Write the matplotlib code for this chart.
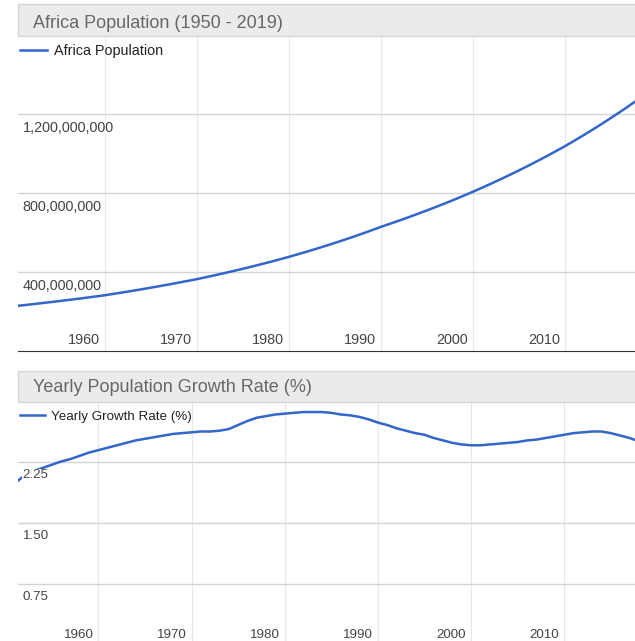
import matplotlib
matplotlib.use("Agg")
import matplotlib.pyplot as plt
from matplotlib.patches import Rectangle

plt.rcParams['font.family'] = ['Liberation Sans', 'DejaVu Sans']

# population, millions, 1950-2019
years = list(range(1950, 2020))
population = [
    226.0, 231.0, 236.3, 241.6, 247.0, 252.6, 258.3, 264.1, 270.0, 276.2,
    282.5, 289.8, 297.2, 304.9, 312.7, 320.8, 329.0, 337.5, 346.2, 355.0,
    364.0, 374.0, 384.2, 394.7, 405.5, 416.6, 428.0, 439.8, 451.8, 464.2,
    477.0, 490.4, 504.1, 518.3, 532.8, 547.7, 563.1, 578.8, 595.1, 611.7,
    629.0, 644.9, 661.1, 677.8, 694.9, 712.4, 730.3, 748.7, 767.6, 787.0,
    807.0, 827.6, 848.7, 870.3, 892.5, 915.3, 938.6, 962.6, 987.1, 1012.3,
    1038.0, 1065.2, 1093.1, 1121.7, 1151.1, 1181.3, 1212.2, 1244.0, 1276.6, 1310.0,
]

# yearly growth rate (%), 1951-2019
growth_years = list(range(1951, 2020))
growth = [
    1.99, 2.08, 2.14, 2.18, 2.22, 2.26, 2.29, 2.33, 2.37,
    2.40, 2.43, 2.46, 2.49, 2.52, 2.54, 2.56, 2.58, 2.60, 2.61,
    2.62, 2.63, 2.63, 2.64, 2.66, 2.71, 2.76, 2.80, 2.82, 2.84,
    2.85, 2.86, 2.87, 2.87, 2.87, 2.86, 2.84, 2.83, 2.81, 2.78,
    2.74, 2.71, 2.67, 2.64, 2.61, 2.59, 2.55, 2.52, 2.49, 2.47,
    2.46, 2.46, 2.47, 2.48, 2.49, 2.50, 2.52, 2.53, 2.55, 2.57,
    2.59, 2.61, 2.62, 2.63, 2.63, 2.61, 2.58, 2.55, 2.51, 2.48,
]

x_ticks = [1960, 1970, 1980, 1990, 2000, 2010]
pop_ticks = [400e6, 800e6, 1200e6]
pop_labels = ['400,000,000', '800,000,000', '1,200,000,000']
growth_ticks = [0.75, 1.5, 2.25]
growth_labels = ['0.75', '1.50', '2.25']

titles = ['Africa Population (1950 - 2019)', 'Yearly Population Growth Rate (%)']
legend_names = ['Africa Population', 'Yearly Growth Rate (%)']

W, H = 635, 641
LINE = '#3366cc'


def fx(px):
    return px / W


def fy(py):
    return 1 - py / H


fig = plt.figure(figsize=(W / 100, H / 100), dpi=100)

ax1 = fig.add_axes([fx(18), fy(351), fx(635) - fx(18), fy(35) - fy(351)])
ax2 = fig.add_axes([fx(18), fy(644.8), fx(635) - fx(18), fy(401.5) - fy(644.8)])


def title_box(top, bottom, text, baseline):
    rect = Rectangle((fx(18), fy(bottom)), fx(640) - fx(18), fy(top) - fy(bottom),
                     transform=fig.transFigure, facecolor='#ebebeb',
                     edgecolor='#d2d2d2', linewidth=0.9)
    fig.add_artist(rect)
    fig.text(fx(33), fy(baseline), text, fontsize=13, color='#676767',
             ha='left', va='baseline')


title_box(3.5, 35.5, titles[0], 27.5)
title_box(370.5, 401.5, titles[1], 392.5)


def style(ax, xlim, ylim, yticks, ylabels, fs, ylab_off, legend_y, legend_fs, name):
    ax.set_xlim(*xlim)
    ax.set_ylim(*ylim)
    ax.set_xticks(x_ticks)
    ax.set_yticks(yticks)
    ax.xaxis.grid(True, color='#e8e8e8', linewidth=0.8)
    ax.yaxis.grid(True, color='#d4d4d4', linewidth=1.0)
    ax.set_axisbelow(True)
    ax.tick_params(length=0, labelleft=False, labelbottom=False)
    for s in ['top', 'left', 'right']:
        ax.spines[s].set_visible(False)
    ax.spines['bottom'].set_color('#333333')
    ax.spines['bottom'].set_linewidth(0.8)
    for v, lab in zip(yticks, ylabels):
        ax.annotate(lab, xy=(0, v), xycoords=ax.get_yaxis_transform(),
                    xytext=(4.5, -ylab_off), textcoords='offset pixels',
                    ha='left', va='baseline', fontsize=fs, color='#444444',
                    annotation_clip=False, zorder=5,
                    bbox=dict(facecolor='white', edgecolor='none', pad=0.3))
    for yr in x_ticks:
        ax.annotate(str(yr), xy=(yr, 0), xycoords=ax.get_xaxis_transform(),
                    xytext=(-5, 7), textcoords='offset pixels',
                    ha='right', va='baseline', fontsize=fs, color='#444444',
                    annotation_clip=False)
    ax.legend([name], loc='center left', bbox_to_anchor=(fx(20), fy(legend_y)),
              bbox_transform=fig.transFigure, frameon=False, fontsize=legend_fs,
              handlelength=1.85, handletextpad=0.5, borderpad=0, borderaxespad=0,
              labelcolor='#222222')


ax1.plot(years, [p * 1e6 for p in population], color=LINE, linewidth=1.8,
         label=legend_names[0])
style(ax1, (1950.55, 2017.57), (0, 1.6e9), pop_ticks, pop_labels, 10.4, 18,
      51, 10.4, legend_names[0])

ax2.plot(growth_years, growth, color=LINE, linewidth=1.8, label=legend_names[1])
style(ax2, (1951.38, 2017.59), (0, 3.0), growth_ticks, growth_labels, 9.6, 16,
      416.5, 9.6, legend_names[1])

fig.savefig('out.png', dpi=100, facecolor='white')
